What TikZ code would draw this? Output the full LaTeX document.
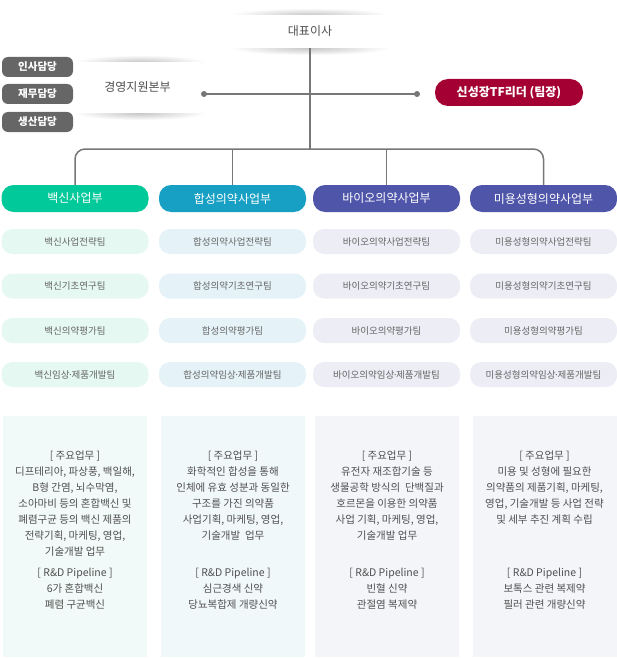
\documentclass[tikz,border=0pt]{standalone}
\usepackage{fontspec}
\setmainfont{Noto Sans CJK KR}
\usetikzlibrary{positioning}
\definecolor{linegray}{HTML}{777777}
\definecolor{pillgray}{HTML}{666666}
\definecolor{tfred}{HTML}{A50034}
\definecolor{vaccine}{HTML}{02C99A}
\definecolor{synth}{HTML}{17A0C4}
\definecolor{bio}{HTML}{4F55A9}
\definecolor{teamA}{HTML}{E5F8F2}
\definecolor{teamB}{HTML}{E5F3F8}
\definecolor{teamC}{HTML}{EDEEF5}
\definecolor{panelA}{HTML}{F1FAF8}
\definecolor{panelB}{HTML}{F1F8FA}
\definecolor{panelC}{HTML}{F4F5F9}
\definecolor{txtgray}{HTML}{505050}
\definecolor{teamtxt}{HTML}{666666}
\newcommand{\middot}{\kern-0.18em·\kern-0.18em}
\begin{document}
\begin{tikzpicture}[x=1pt,y=-1pt,
  line/.style={line width=1.5pt, draw=linegray},
  glow/.style={inner color=black!22, outer color=white},
  head/.style={fill=white, text=txtgray, font=\fontsize{12}{14}\selectfont},
  staff/.style={fill=pillgray, rounded corners=6pt, minimum width=71pt, minimum height=20pt, inner sep=0pt, text=white, font=\bfseries\fontsize{10.5}{12}\selectfont},
  division/.style={rounded corners=12pt, minimum width=147pt, minimum height=27pt, inner sep=0pt, text=white, font=\fontsize{12}{14}\selectfont},
  team/.style={rounded corners=11pt, minimum width=147pt, minimum height=25pt, inner sep=0pt, text=teamtxt, font=\fontsize{9.5}{11}\selectfont},
  panel/.style={minimum width=144pt, minimum height=241pt, inner sep=0pt, anchor=north},
  desc/.style={align=center, inner sep=0pt, anchor=north, text=txtgray, font=\fontsize{10.5}{16}\selectfont}]

\useasboundingbox (0,0) rectangle (617,658);

% top
\shade[glow] (310,15) ellipse (80 and 7);
\shade[glow] (310,48) ellipse (80 and 7);
\node[head, minimum width=156pt, minimum height=33pt] (ceo) at (310,31.5) {대표이사};

\shade[glow] (140,62) ellipse (66 and 7);
\shade[glow] (140,113) ellipse (66 and 7);
\node[head, minimum width=125pt, minimum height=51pt] (mgmt) at (137.5,87.5) {경영지원본부};

\node[staff] (hr) at (37.5,67) {인사담당};
\node[staff] (finance) at (37.5,94) {재무담당};
\node[staff] (production) at (37.5,122) {생산담당};

\node[fill=tfred, rounded corners=13pt, minimum width=148pt, minimum height=27pt, inner sep=0pt, text=white, font=\bfseries\fontsize{12}{14}\selectfont] (tf) at (509,92.5) {신성장TF리더 (팀장)};

% connectors
\coordinate (mgmtdot) at (204,94);
\coordinate (tfdot) at (417,94);
\coordinate (hub) at (310,149);
\draw[line] (mgmtdot) -- (tfdot);
\fill[linegray] (mgmtdot) circle (3);
\fill[linegray] (tfdot) circle (3);

% divisions
\node[division, fill=vaccine] (divA) at (75,198.5) {백신사업부};
\node[division, fill=synth] (divB) at (232.5,198.5) {합성의약사업부};
\node[division, fill=bio] (divC) at (386.5,198.5) {바이오의약사업부};
\node[division, fill=bio] (divD) at (543.5,198.5) {미용성형의약사업부};

\draw[line] (ceo.south) -- (hub);
\draw[line, rounded corners=10pt] (divA.north) |- (hub) -| (divD.north);
\draw[line] (divB.north) -- (divB.north |- hub);
\draw[line] (divC.north) -- (divC.north |- hub);

% teams
\node[team, fill=teamA] (teamA1) at (75,241.5) {백신사업전략팀};
\node[team, fill=teamA] (teamA2) at (75,286) {백신기초연구팀};
\node[team, fill=teamA] (teamA3) at (75,330.5) {백신의약평가팀};
\node[team, fill=teamA] (teamA4) at (75,374.5) {백신임상\middot 제품개발팀};

\node[team, fill=teamB] (teamB1) at (232.5,241.5) {합성의약사업전략팀};
\node[team, fill=teamB] (teamB2) at (232.5,286) {합성의약기초연구팀};
\node[team, fill=teamB] (teamB3) at (232.5,330.5) {합성의약평가팀};
\node[team, fill=teamB] (teamB4) at (232.5,374.5) {합성의약임상\middot 제품개발팀};

\node[team, fill=teamC] (teamC1) at (386.5,241.5) {바이오의약사업전략팀};
\node[team, fill=teamC] (teamC2) at (386.5,286) {바이오의약기초연구팀};
\node[team, fill=teamC] (teamC3) at (386.5,330.5) {바이오의약평가팀};
\node[team, fill=teamC] (teamC4) at (386.5,374.5) {바이오의약임상\middot 제품개발팀};

\node[team, fill=teamC] (teamD1) at (543.5,241.5) {미용성형의약사업전략팀};
\node[team, fill=teamC] (teamD2) at (543.5,286) {미용성형의약기초연구팀};
\node[team, fill=teamC] (teamD3) at (543.5,330.5) {미용성형의약평가팀};
\node[team, fill=teamC] (teamD4) at (543.5,374.5) {미용성형의약임상\middot 제품개발팀};

% panels
\node[panel, fill=panelA] (panA) at (75,416) {};
\node[panel, fill=panelB] (panB) at (233,416) {};
\node[panel, fill=panelC] (panC) at (387,416) {};
\node[panel, fill=panelC] (panD) at (544.5,416) {};

\node[desc] (dutyA) at (75,451) {[ 주요업무 ]\\디프테리아, 파상풍, 백일해,\\B형 간염, 뇌수막염,\\소아마비 등의 혼합백신 및\\폐렴구균 등의 백신 제품의\\전략기획, 마케팅, 영업,\\기술개발 업무};
\node[desc] (dutyB) at (233,451) {[ 주요업무 ]\\화학적인 합성을 통해\\인체에 유효 성분과 동일한\\구조를 가진 의약품\\사업기획, 마케팅, 영업,\\기술개발\ \ 업무};
\node[desc] (dutyC) at (387,451) {[ 주요업무 ]\\유전자 재조합기술 등\\생물공학 방식의\ \ 단백질과\\호르몬을 이용한 의약품\\사업 기획, 마케팅, 영업,\\기술개발 업무};
\node[desc] (dutyD) at (544.5,451) {[ 주요업무 ]\\미용 및 성형에 필요한\\의약품의 제품기획, 마케팅,\\영업, 기술개발 등 사업 전략\\및 세부 추진 계획 수립};

\node[desc] (pipeA) at (75,568) {[ R\&D Pipeline ]\\6가 혼합백신\\폐렴 구균백신};
\node[desc] (pipeB) at (233,568) {[ R\&D Pipeline ]\\심근경색 신약\\당뇨복합제 개량신약};
\node[desc] (pipeC) at (387,568) {[ R\&D Pipeline ]\\빈혈 신약\\관절염 복제약};
\node[desc] (pipeD) at (544.5,568) {[ R\&D Pipeline ]\\보톡스 관련 복제약\\필러 관련 개량신약};

\end{tikzpicture}
\end{document}
